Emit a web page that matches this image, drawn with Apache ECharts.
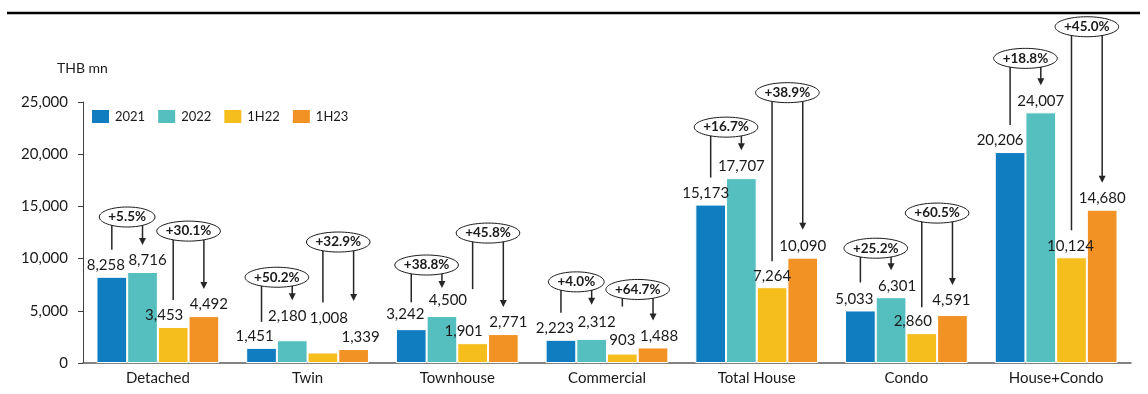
<!DOCTYPE html>
<html>
<head>
<meta charset="utf-8">
<script src="https://cdn.jsdelivr.net/npm/echarts@6/dist/echarts.min.js"></script>
<style>
  html, body { margin: 0; padding: 0; background: #fff; }
  #chart { width: 1148px; height: 394px; }
</style>
</head>
<body>
<div id="chart"></div>
<script>
// Presales value by product type, THB mn
const categories = ['Detached', 'Twin', 'Townhouse', 'Commercial', 'Total House', 'Condo', 'House+Condo'];
const seriesNames = ['2021', '2022', '1H22', '1H23'];
const sales2021 = [8258, 1451, 3242, 2223, 15173, 5033, 20206];
const sales2022 = [8716, 2180, 4500, 2312, 17707, 6301, 24007];
const sales1H22 = [3453, 1008, 1901, 903, 7264, 2860, 10124];
const sales1H23 = [4492, 1339, 2771, 1488, 10090, 4591, 14680];
// Growth as published (2022 vs 2021, 1H23 vs 1H22)
const growthFY = ['+5.5%', '+50.2%', '+38.8%', '+4.0%', '+16.7%', '+25.2%', '+18.8%'];
const growthH1 = ['+30.1%', '+32.9%', '+45.8%', '+64.7%', '+38.9%', '+60.5%', '+45.0%'];

const FONT = 'Lato';
const colors = ['#117dc1', '#55bfbf', '#f5be1d', '#f39224'];
const seriesValues = [sales2021, sales2022, sales1H22, sales1H23];

// Label nudges (px) so neighbouring value labels don't collide
const labelDx = [
  [-6, -7, -6, -6, -5, -6, -10],
  [5, -5, 6, 5, 0, 6, 0],
  [-9, 6, -9, 0, 0, -9, -1],
  [5, 7, 5, 6, 0, -1, 0]
];
const labelLift = [
  [0, 0, 3, 0, 0, 0, 0],
  [0, 13, 4, 5, 0, 0, 0],
  [0, 23, 0, 2, 0, 0, 0],
  [0, 0, 0, 0, 0, 3, 0]
];

// Callout layout: how far (px) each growth bubble sits above the taller bar of its pair
const bubbleRise = [
  [55, 63, 51, 57, 51, 49, 54],
  [85, 107, 101, 58, 165, 102, 183]
];
// Gap (px) between a bar top and the end of its connector
const legGapA = [
  [27, 26, 27, 27, 27, 28, 27],
  [27, 50, 54, 47, 26, 26, 27]
];
const legGapB = [
  [27, 40, 28, 34, 28, 27, 27],
  [27, 48, 27, 27, 28, 30, 27]
];

const BAR_CAT_GAP = 0.18;
const BUBBLE_FONT = 'bold 13.5px ' + FONT;
const measureCtx = document.createElement('canvas').getContext('2d');
measureCtx.font = BUBBLE_FONT;

const barSeries = seriesNames.map((name, s) => ({
  name,
  type: 'bar',
  barGap: '0%',
  barCategoryGap: (BAR_CAT_GAP * 100) + '%',
  itemStyle: { color: colors[s], borderColor: '#ffffff', borderWidth: 1 },
  label: {
    show: true,
    position: 'top',
    distance: 4,
    fontFamily: FONT,
    fontSize: 15,
    color: '#1a1a1a',
    formatter: p => p.value.toLocaleString('en-US')
  },
  data: seriesValues[s].map((v, i) => ({
    value: v,
    label: { offset: [labelDx[s][i], -labelLift[s][i]] }
  }))
}));

const calloutData = [];
categories.forEach((c, i) => { calloutData.push([i, 0]); calloutData.push([i, 1]); });

function renderCallout(params, api) {
  const i = api.value(0);
  const p = api.value(1);
  const a = p === 0 ? sales2021[i] : sales1H22[i];
  const b = p === 0 ? sales2022[i] : sales1H23[i];
  const text = p === 0 ? growthFY[i] : growthH1[i];
  const center = api.coord([i, 0])[0];
  const band = api.size([1, 0])[0];
  const barW = band * (1 - BAR_CAT_GAP) / 4;
  const sA = p * 2, sB = p * 2 + 1;
  const xA = center + (sA - 1.5) * barW;
  const xB = center + (sB - 1.5) * barW;
  const yA = api.coord([i, a])[1];
  const yB = api.coord([i, b])[1];
  const ey = Math.min(yA, yB) - bubbleRise[p][i];
  const ex = (xA + xB) / 2;
  const tip = yB - legGapB[p][i];
  const rx = measureCtx.measureText(text).width / 2 + 9;
  const ry = 10;
  const lineStyle = { stroke: '#262626', lineWidth: 1.5 };
  return {
    type: 'group',
    children: [
      { type: 'line', shape: { x1: xA, y1: ey, x2: xA, y2: yA - legGapA[p][i] }, style: lineStyle },
      { type: 'line', shape: { x1: xB, y1: ey, x2: xB, y2: tip - 6 }, style: lineStyle },
      { type: 'polygon', shape: { points: [[xB - 3.5, tip - 7], [xB + 3.5, tip - 7], [xB, tip]] }, style: { fill: '#262626' } },
      { type: 'ellipse', shape: { cx: ex, cy: ey, rx, ry }, style: { fill: '#ffffff', stroke: '#1a1a1a', lineWidth: 1 } },
      {
        type: 'text',
        style: {
          x: ex, y: ey, text,
          align: 'center', verticalAlign: 'middle',
          font: BUBBLE_FONT, fill: '#1a1a1a'
        }
      }
    ]
  };
}

const chart = echarts.init(document.getElementById('chart'), null, { renderer: 'canvas' });
chart.setOption({
  animation: false,
  backgroundColor: '#ffffff',
  textStyle: { fontFamily: FONT },
  title: {
    text: 'THB mn',
    left: 57,
    top: 61,
    padding: 0,
    textStyle: { fontFamily: FONT, fontSize: 14, fontWeight: 'normal', color: '#1a1a1a' }
  },
  legend: {
    data: seriesNames,
    left: 90,
    top: 108,
    padding: 0,
    icon: 'rect',
    itemWidth: 19,
    itemHeight: 15,
    itemGap: 11,
    textStyle: { fontFamily: FONT, fontSize: 13, color: '#1a1a1a' }
  },
  graphic: [{
    type: 'line',
    shape: { x1: 7, y1: 13, x2: 1140, y2: 13 },
    style: { stroke: '#000000', lineWidth: 2.5 }
  }],
  grid: { left: 83, right: 17, top: 102, bottom: 31, containLabel: false },
  xAxis: {
    type: 'category',
    data: categories,
    axisLine: { lineStyle: { color: '#595959', width: 1.5 } },
    axisTick: { show: false },
    axisLabel: { fontFamily: FONT, fontSize: 15, color: '#1a1a1a', margin: 8 }
  },
  yAxis: {
    type: 'value',
    min: 0,
    max: 25000,
    interval: 5000,
    splitLine: { show: false },
    axisLine: { show: true, lineStyle: { color: '#404040', width: 1 } },
    axisTick: { show: true, length: 5, lineStyle: { color: '#404040' } },
    axisLabel: {
      fontFamily: FONT, fontSize: 15, color: '#1a1a1a', margin: 15,
      formatter: v => v.toLocaleString('en-US')
    }
  },
  series: [
    ...barSeries,
    {
      type: 'custom',
      name: 'growth',
      renderItem: renderCallout,
      data: calloutData,
      encode: { x: 0 },
      clip: false,
      silent: true,
      z: 5
    }
  ]
});
</script>
</body>
</html>
